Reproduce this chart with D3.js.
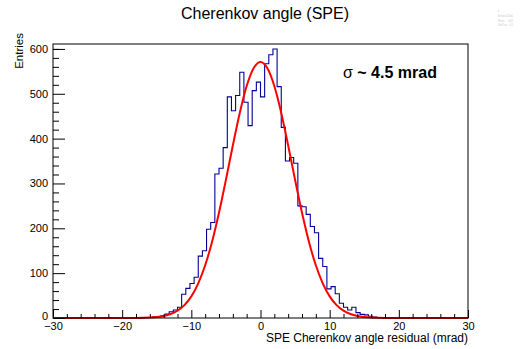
<!DOCTYPE html>
<html>
<head>
<meta charset="utf-8">
<script src="https://cdn.jsdelivr.net/npm/d3@7"></script>
<style>
  html, body { margin: 0; padding: 0; background: #fff; }
  svg { display: block; font-family: "Liberation Sans", Arial, Helvetica, sans-serif; }
</style>
</head>
<body>
<svg id="chart" width="522" height="349"></svg>
<script>
// ---- data ----
const xDomain = [-30, 30];
const binCount = 100;
// bin contents (100 bins of 0.6 mrad, from -30 to 30)
const binValues = [
  0,0,0,0,0,0,0,0,0,0,
  0,0,0,0,0,0,0,0,0,0,
  0,0,1,1,2,3,5,9,14,18,
  24,53,66,77,91,138,150,198,213,321,
  334,380,493,462,496,548,481,429,507,526,
  493,567,587,600,516,425,350,358,345,250,
  248,231,204,190,133,115,65,70,54,33,
  24,18,24,12,8,7,4,2,1,1,
  0,0,0,0,0,0,0,0,0,0,
  0,0,0,0,0,0,0,0,0,0
];
// fitted gaussian curve, sampled every 1 mrad
const fitX = [-30,-29,-28,-27,-26,-25,-24,-23,-22,-21,-20,-19,-18,-17,-16,-15,-14,-13,-12,-11,-10,-9,-8,-7,-6,-5,-4,-3,-2,-1,0,
  1,2,3,4,5,6,7,8,9,10,11,12,13,14,15,16,17,18,19,20,21,22,23,24,25,26,27,28,29,30];
const fitY = [0,0,0,0,0,0,0,0,0,0,0.03,0.07,0.19,0.45,1.0,2.2,4.5,8.8,16.3,28.8,48.3,77.3,117.6,170.3,234.7,308.0,384.7,457.2,517.3,557.1,571,
  557.1,517.3,457.2,384.7,308.0,234.7,170.3,117.6,77.3,48.3,28.8,16.3,8.8,4.5,2.2,1.0,0.45,0.19,0.07,0.03,0,0,0,0,0,0,0,0,0,0];
const xMajorTicks = [-30,-20,-10,0,10,20,30];
const xMinorTicks = [-28,-26,-24,-22,-18,-16,-14,-12,-8,-6,-4,-2,2,4,6,8,12,14,16,18,22,24,26,28];
const yMajorTicks = [0,100,200,300,400,500,600];
const yMinorTicks = [20,40,60,80,120,140,160,180,220,240,260,280,320,340,360,380,420,440,460,480,520,540,560,580,600];
const yMax = 611;
const title = "Cherenkov angle (SPE)";
const xTitle = "SPE Cherenkov angle residual (mrad)";
const yTitle = "Entries";
const annotation = ["σ", " ~ 4.5 mrad"];
const statsLabels = ["h", "Entries", "Mean", "Std Dev"];
const statsValues = ["", "12000", "0.02", "4.5"];

// ---- layout ----
const svg = d3.select("#chart");
const L = 53, R = 468, T = 44, B = 318;
const x = d3.scaleLinear().domain(xDomain).range([L, R]);
const y = d3.scaleLinear().domain([0, yMax]).range([B, T]);

// histogram step line
const binWidth = (xDomain[1] - xDomain[0]) / binCount;
const stepData = binValues.map((v, i) => ({e: xDomain[0] + i * binWidth, v}));
stepData.push({e: xDomain[1], v: binValues[binCount - 1]});
const stepLine = d3.line().x(d => x(d.e)).y(d => y(d.v)).curve(d3.curveStepAfter);

svg.append("path")
  .datum(stepData)
  .attr("d", stepLine)
  .attr("fill", "none")
  .attr("stroke", "#000099")
  .attr("stroke-width", 1.1);

// fit curve
const fitLine = d3.line().x((d, i) => x(fitX[i])).y(d => y(d)).curve(d3.curveMonotoneX);
svg.append("path")
  .datum(fitY)
  .attr("d", fitLine)
  .attr("fill", "none")
  .attr("stroke", "#ff0000")
  .attr("stroke-width", 2);

// axes
const fontSize = 11;
const gx = svg.append("g").attr("transform", `translate(0,${B})`);
gx.call(d3.axisBottom(x).tickValues(xMajorTicks).tickSize(-8).tickPadding(4)
  .tickFormat(d => d < 0 ? "\u2212" + Math.abs(d) : String(d)));
const gxm = svg.append("g").attr("transform", `translate(0,${B})`);
gxm.call(d3.axisBottom(x).tickValues(xMinorTicks).tickSize(-4).tickFormat(""));

const gy = svg.append("g").attr("transform", `translate(${L},0)`);
gy.call(d3.axisLeft(y).tickValues(yMajorTicks).tickSize(-12).tickPadding(5).tickFormat(d3.format("d")));
const gym = svg.append("g").attr("transform", `translate(${L},0)`);
gym.call(d3.axisLeft(y).tickValues(yMinorTicks).tickSize(-6).tickFormat(""));

svg.selectAll(".domain").remove();
svg.selectAll(".tick line").attr("stroke", "#000").attr("stroke-width", 1);
svg.selectAll(".tick text").attr("fill", "#000").attr("font-size", fontSize)
  .attr("font-family", "Liberation Sans, Arial, sans-serif");
// the zero label of the y axis sits slightly higher, as in the reference
gy.selectAll(".tick text").filter(d => d === 0).attr("y", -2.5);

// frame
svg.append("rect")
  .attr("x", L).attr("y", T).attr("width", R - L).attr("height", B - T)
  .attr("fill", "none").attr("stroke", "#000").attr("stroke-width", 1);

// titles
svg.append("text").attr("x", 265).attr("y", 19).attr("text-anchor", "middle")
  .attr("font-size", 16).attr("fill", "#000").text(title);
svg.append("text").attr("x", R).attr("y", 342).attr("text-anchor", "end")
  .attr("font-size", 12).attr("fill", "#000").text(xTitle);
svg.append("text").attr("transform", "translate(22.5,33) rotate(-90)").attr("text-anchor", "end")
  .attr("font-size", 11.5).attr("fill", "#000").text(yTitle);

// annotation
const ann = svg.append("text").attr("x", 343).attr("y", 78).attr("font-size", 16).attr("fill", "#000");
ann.append("tspan").attr("font-weight", "normal").text(annotation[0]);
ann.append("tspan").attr("font-weight", "bold").text(annotation[1]);

// faint stats remnant, top right
const st = svg.append("g").attr("fill", "#c8c8c8").attr("font-size", 2.6);
statsLabels.forEach((s, i) => {
  st.append("text").attr("x", 498).attr("y", 12 + i * 4.8).text(s);
  st.append("text").attr("x", 513).attr("y", 12 + i * 4.8).attr("text-anchor", "end").text(statsValues[i]);
});
</script>
</body>
</html>
